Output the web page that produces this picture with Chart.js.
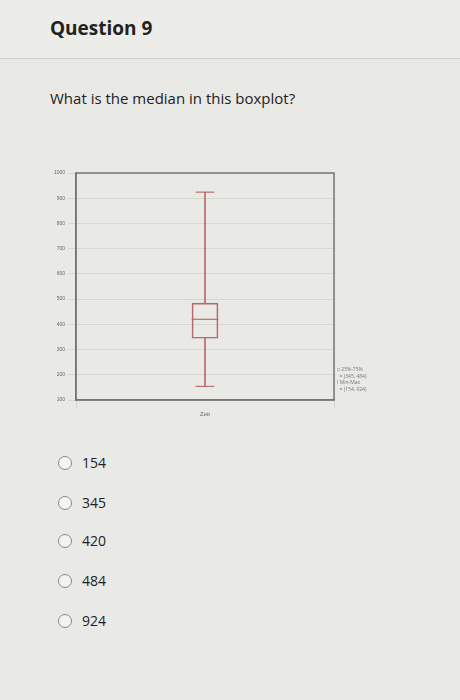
<!DOCTYPE html>
<html>
<head>
<meta charset="utf-8">
<script src="https://cdn.jsdelivr.net/npm/chart.js@4/dist/chart.umd.min.js"></script>
<style>
body{margin:0;background:#e9e9e6;font-family:"Open Sans",Arial,sans-serif;color:#222;width:460px;height:700px;position:relative;overflow:hidden}
#hdr{position:absolute;left:0;top:0;width:460px;height:58px;border-bottom:1px solid #cfcfcc;background:#ecece9}
#hdr span{position:absolute;left:50px;top:15px;font-size:19px;font-weight:bold}
#q{position:absolute;left:50px;top:88px;font-size:15px}
#wrap{position:absolute;left:31px;top:160px;width:330px;height:260px}
.opt{position:absolute;left:58px;font-size:14px}
.opt i{display:inline-block;width:12px;height:12px;border:1px solid #888;border-radius:50%;vertical-align:-2px;margin-right:10px;background:#f4f4f2}
#leg{position:absolute;left:337px;top:366px;font-size:5px;color:#777;line-height:6.5px}
</style>
</head>
<body>
<div id="hdr"><span>Question 9</span></div>
<div id="q">What is the median in this boxplot?</div>
<div id="wrap"><canvas id="c"></canvas></div>
<div id="leg"><span style="color:#b55">&#9633;</span> 25%-75%<br>&nbsp;&nbsp;= (345, 484)<br><span style="color:#b55">I</span> Min-Max<br>&nbsp;&nbsp;= (154, 924)</div>
<div class="opt" style="top:453px"><i></i>154</div>
<div class="opt" style="top:493px"><i></i>345</div>
<div class="opt" style="top:531px"><i></i>420</div>
<div class="opt" style="top:571px"><i></i>484</div>
<div class="opt" style="top:611px"><i></i>924</div>
<script>
var labels = ['Zeit'];
var minV = 154, q1 = 345, median = 420, q3 = 484, maxV = 924;
var yTicks = [100, 200, 300, 400, 500, 600, 700, 800, 900, 1000];
var col = '#b86a6a';

function bar(data, w, fill) {
  return {type: 'bar', data: [data], grouped: false, barThickness: w,
    backgroundColor: fill ? col : 'rgba(0,0,0,0)', borderColor: col,
    borderWidth: fill ? 0 : 1, borderSkipped: false};
}

new Chart(document.getElementById('c'), {
  type: 'bar',
  data: {
    labels: labels,
    datasets: [
      bar([minV, q1], 1, true),
      bar([q3, maxV], 1, true),
      bar([minV - 1, minV + 1], 18, true),
      bar([maxV - 1, maxV + 1], 18, true),
      bar([q1, q3], 26, false),
      bar([median - 1, median + 1], 26, true)
    ]
  },
  options: {
    responsive: true, maintainAspectRatio: false, animation: false,
    layout: {padding: {top: 13, right: 27}},
    plugins: {legend: {display: false}, tooltip: {enabled: false}},
    scales: {
      x: {grid: {color: '#d6d6d3'}, border: {color: '#777', width: 1.5},
        ticks: {font: {size: 6}, color: '#666'},
        afterFit: function (s) { s.height = 20; }},
      y: {min: 100, max: 1000, grid: {color: '#d6d6d3'}, border: {color: '#777', width: 1.5},
        afterBuildTicks: function (s) { s.ticks = yTicks.map(function (v) { return {value: v}; }); },
        ticks: {font: {size: 5}, color: '#666', callback: function (v) { return String(v); }},
        afterFit: function (s) { s.width = 45; }}
    }
  },
  plugins: [{
    id: 'frame',
    afterDraw: function (ch) {
      var a = ch.chartArea, x = ch.ctx;
      x.save(); x.strokeStyle = '#777'; x.lineWidth = 1.5;
      x.strokeRect(a.left, a.top, a.right - a.left, a.bottom - a.top);
      x.restore();
    }
  }]
});
</script>
</body>
</html>
